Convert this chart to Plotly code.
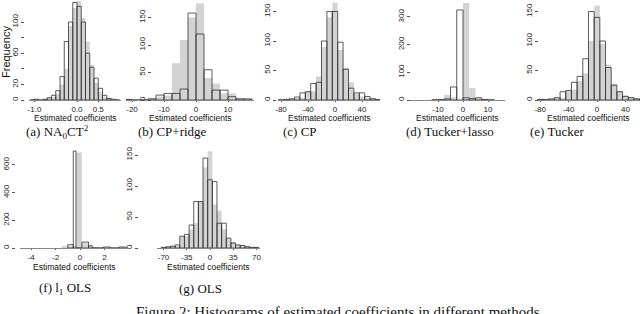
import plotly.graph_objects as go

W, H = 640, 314

# ---------------- data: histogram bins and counts (gray = filled, line = outlined) ----------------
# (a) NA0CT2
a_start, a_width = -1.10, 0.1
a_gray = [1, 0, 0, 1, 2, 4, 8, 20, 40, 95, 118, 127, 105, 75, 45, 22, 10, 4, 2, 0, 1]
a_line = [0, 1, 0, 1, 3, 6, 12, 30, 75, 100, 125, 120, 100, 60, 42, 28, 15, 6, 2, 1, 0]

# (b) CP+ridge
b_start, b_width = -22.5, 2.5
b_gray = [1, 0, 0, 2, 6, 8, 67, 109, 150, 176, 40, 30, 12, 12, 4, 1]
b_line = [1, 0, 0, 2, 9, 12, 12, 20, 158, 120, 55, 18, 18, 6, 2, 2]

# (c) CP
c_start, c_width = -84, 8
c_gray = [1, 0, 1, 2, 3, 15, 15, 40, 90, 140, 165, 85, 55, 30, 10, 6, 4, 3, 1]
c_line = [0, 1, 2, 5, 12, 14, 28, 30, 100, 150, 150, 98, 52, 20, 12, 12, 6, 2, 1]

# (d) Tucker+lasso
d_start, d_width = -12.5, 2.5
d_gray = [1, 3, 18, 10, 0, 350, 43, 6, 3, 1]
d_line = [0, 1, 4, 47, 325, 8, 5, 8, 2, 0]

# (e) Tucker
e_start, e_width = -84, 8
e_gray = [1, 0, 1, 2, 4, 15, 18, 32, 45, 100, 160, 95, 60, 28, 15, 8, 5, 3, 1]
e_line = [1, 1, 2, 4, 14, 16, 30, 40, 70, 150, 140, 100, 55, 25, 14, 6, 4, 2, 1]

# (f) l1 OLS (unequal bins)
f_gray_edges = [-1.5, -1.0, -0.33, 0.15, 0.65, 1.0, 1.5]
f_gray = [10, 14, 690, 36, 12, 3]
f_line_edges = [-1.0, -0.55, -0.33, 0.15, 0.7, 1.0, 1.9, 2.5, 3.2, 3.8]
f_line = [24, 700, 0, 43, 17, 0, 7, 0, 7]

# (g) OLS
g_start, g_width = -73.5, 7
g_gray = [1, 1, 2, 3, 19, 19, 30, 40, 75, 130, 156, 70, 60, 30, 15, 10, 5, 4, 2, 1, 1]
g_line = [1, 2, 3, 5, 19, 22, 37, 75, 75, 145, 110, 107, 40, 40, 16, 8, 5, 4, 2, 1, 1]

x_ticks = {
    "a": [-1.0, 0.0, 0.5], "b": [-20, -10, 0, 10], "c": [-80, -40, 0, 40],
    "d": [-10, 0, 10], "e": [-80, -40, 0, 40], "f": [-4, -2, 0, 2],
    "g": [-70, -35, 0, 35, 70],
}
x_tick_text = {
    "a": ["-1.0", "0.0", "0.5"], "b": ["-20", "-10", "0", "10"], "c": ["-80", "-40", "0", "40"],
    "d": ["-10", "0", "10"], "e": ["-80", "-40", "0", "40"], "f": ["-4", "-2", "0", "2"],
    "g": ["-70", "-35", "0", "35", "70"],
}
y_ticks = {
    "a": [0, 20, 60, 100], "b": [0, 50, 100, 150], "c": [0, 50, 100, 150],
    "d": [0, 100, 200, 300], "e": [0, 50, 100, 150], "f": [0, 200, 400, 600],
    "g": [0, 50, 100, 150],
}
y_minor = {"a": [40, 80]}
captions = {
    "a": "(a) NA<sub>0</sub>CT<sup>2</sup>", "b": "(b) CP+ridge", "c": "(c) CP",
    "d": "(d) Tucker+lasso", "e": "(e) Tucker", "f": "(f) l<sub>1</sub> OLS", "g": "(g) OLS",
}
figure_caption = "Figure 2: Histograms of estimated coefficients in different methods"
x_title = "Estimated coefficients"
y_title = "Frequency"


def uniform_edges(start, width, counts):
    return [start + width * j for j in range(len(counts) + 1)]


hist_data = {
    "a": (uniform_edges(a_start, a_width, a_gray), a_gray, uniform_edges(a_start, a_width, a_line), a_line),
    "b": (uniform_edges(b_start, b_width, b_gray), b_gray, uniform_edges(b_start, b_width, b_line), b_line),
    "c": (uniform_edges(c_start, c_width, c_gray), c_gray, uniform_edges(c_start, c_width, c_line), c_line),
    "d": (uniform_edges(d_start, d_width, d_gray), d_gray, uniform_edges(d_start, d_width, d_line), d_line),
    "e": (uniform_edges(e_start, e_width, e_gray), e_gray, uniform_edges(e_start, e_width, e_line), e_line),
    "f": (f_gray_edges, f_gray, f_line_edges, f_line),
    "g": (uniform_edges(g_start, g_width, g_gray), g_gray, uniform_edges(g_start, g_width, g_line), g_line),
}

# ---------------- layout geometry (pixels) ----------------
# key: (x_left_px, x_right_px, zero_px, px_per_unit, yaxis_px, baseline_px, top_px, px_per_count, caption_x)
geom = {
    "a": (29, 121, 77, 42.5, 24, 100, 0, 0.78, 57),
    "b": (126, 254, 196, 3.2, 151, 100, 0, 0.55, 172),
    "c": (278, 380, 335, 0.675, 276, 100, 0, 0.59, 300),
    "d": (410, 505, 463, 2.5, 410, 100, 0, 0.277, 450),
    "e": (537, 640, 597, 0.71, 538, 100, 0, 0.59, 557),
    "f": (20, 128, 80, 12.2, 15, 248, 140, 0.1385, 65),
    "g": (157, 260, 210, 0.664, 138, 248, 140, 0.62, 200),
}

fig = go.Figure()
layout = {}
annotations = []
sans = "Liberation Sans, Arial, sans-serif"
tickfont = dict(family=sans, size=8, color="#222")
serif = "Liberation Serif, DejaVu Serif, serif"

for i, key in enumerate(["a", "b", "c", "d", "e", "f", "g"]):
    n = i + 1
    xs = "x" if n == 1 else f"x{n}"
    ys = "y" if n == 1 else f"y{n}"
    xl, xr, z0, k, yax, yb, yt, ky, capx = geom[key]
    ge, gc, le, lc = hist_data[key]
    fig.add_trace(go.Bar(
        x=[(ge[j] + ge[j + 1]) / 2 for j in range(len(gc))], y=gc,
        width=[ge[j + 1] - ge[j] for j in range(len(gc))],
        marker=dict(color="#d3d3d3", line=dict(width=0)),
        xaxis=xs, yaxis=ys, showlegend=False, hoverinfo="skip"))
    fig.add_trace(go.Bar(
        x=[(le[j] + le[j + 1]) / 2 for j in range(len(lc))], y=lc,
        width=[le[j + 1] - le[j] for j in range(len(lc))],
        marker=dict(color="rgba(0,0,0,0)", line=dict(width=0.8, color="#333")),
        xaxis=xs, yaxis=ys, showlegend=False, hoverinfo="skip"))
    xname = "xaxis" if n == 1 else f"xaxis{n}"
    yname = "yaxis" if n == 1 else f"yaxis{n}"
    layout[xname] = dict(
        domain=[xl / W, xr / W], range=[(xl - z0) / k, (xr - z0) / k],
        anchor=ys, tickvals=x_ticks[key], ticktext=x_tick_text[key], automargin=False,
        ticks="outside", ticklen=1, tickcolor="#555", showline=True, linecolor="#888", linewidth=1,
        showgrid=False, zeroline=False, tickfont=tickfont,
    )
    ydict = dict(
        domain=[1 - yb / H, 1 - yt / H], range=[0, (yb - yt) / ky], automargin=False,
        anchor="free", position=yax / W, tickvals=y_ticks[key],
        ticks="outside", ticklen=3, tickcolor="#555", showline=False,
        showgrid=False, zeroline=False, tickfont=tickfont, tickangle=-90,
    )
    if key in y_minor:
        ydict["minor"] = dict(tickvals=y_minor[key], ticks="outside", ticklen=3, tickcolor="#555")
    layout[yname] = ydict
    annotations.append(dict(
        text=x_title, x=(xl + xr) / 2 / W, y=1 - (yb + 18.5) / H, xref="paper", yref="paper",
        showarrow=False, font=dict(family=sans, size=8.5, color="#111"),
        xanchor="center", yanchor="middle"))
    annotations.append(dict(
        text=captions[key], x=capx / W, y=1 - (yb + 31.5 if n <= 5 else yb + 40) / H,
        xref="paper", yref="paper", showarrow=False,
        font=dict(family=serif, size=13, color="#111"), xanchor="center", yanchor="middle"))

annotations.append(dict(
    text=y_title, x=6 / W, y=1 - 52 / H, xref="paper", yref="paper", showarrow=False,
    textangle=-90, font=dict(family=sans, size=11, color="#111"),
    xanchor="center", yanchor="middle"))
annotations.append(dict(
    text=figure_caption, x=338 / W, y=1 - 312 / H, xref="paper", yref="paper", showarrow=False,
    font=dict(family=serif, size=15, color="#111"), xanchor="center", yanchor="middle"))

fig.update_layout(
    width=W, height=H, margin=dict(l=0, r=0, t=0, b=0), barmode="overlay",
    paper_bgcolor="white", plot_bgcolor="white", annotations=annotations, **layout)

fig.write_html("out.html", config={"displayModeBar": False},
               post_script="document.body.style.margin='0';document.body.style.overflow='hidden';")
